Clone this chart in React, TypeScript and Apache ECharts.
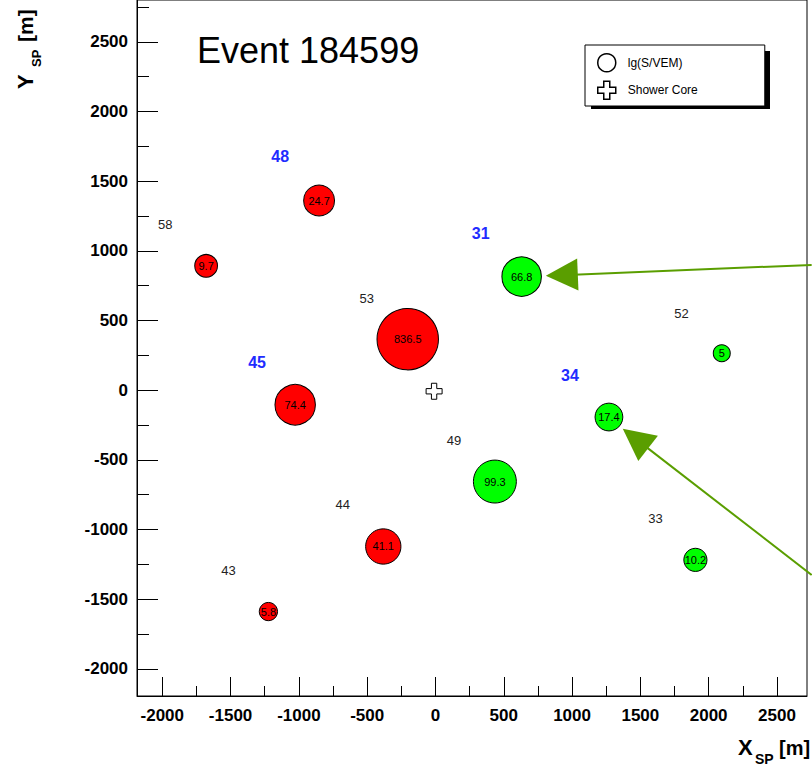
import React, { useEffect, useRef } from "react";
import * as echarts from "echarts";

// Detector stations with a signal: position [m], signal [VEM], group
const signalX = [-852, -1679, -203, -1027, -382, -1223, 631, 2096, 1270, 435, 1903];
const signalY = [1361, 892, 366, -105, -1122, -1589, 815, 265, -193, -656, -1218];
const signalVEM = [24.7, 9.7, 836.5, 74.4, 41.1, 5.8, 66.8, 5, 17.4, 99.3, 10.2];
const signalGroup = ["A", "A", "A", "A", "A", "A", "B", "B", "B", "B", "B"];

// Station ids without signal
const idX = [-1979, -503, 1801, 135, -679, -1516, 1611];
const idY = [1188, 660, 553, -362, -823, -1295, -919];
const idLabel = ["58", "53", "52", "49", "44", "43", "33"];

// Highlighted station ids
const hotX = [-1137, 331, -1306, 984];
const hotY = [1674, 1122, 196, 103];
const hotLabel = ["48", "31", "45", "34"];

// Reconstructed shower core
const coreX = [-10];
const coreY = [-8];

// Pointer arrows: tail and arrow-head centre in detector coordinates
const arrowFrom = [[2754, 899], [2754, -1326]];
const arrowTo = [[925, 825], [1464, -348]];

// Axis ticks
const majorTicks = [-2000, -1500, -1000, -500, 0, 500, 1000, 1500, 2000, 2500];
const minorTicksX = [-1750, -1250, -750, -250, 250, 750, 1250, 1750, 2250];
const minorTicksY = [-1750, -1250, -750, -250, 250, 750, 1250, 1750, 2250, 2750];

const FONT = "Liberation Sans";
const CROSS = "path://M1,0H2V1H3V2H2V3H1V2H0V1H1Z";

export default function App() {
  const ref = useRef<HTMLDivElement>(null);

  useEffect(() => {
    if (!ref.current) return;
    const chart = echarts.init(ref.current, null, { renderer: "svg" });

    const xRange = { min: -2185, max: 2720 };
    const yRange = { min: -2195, max: 2800 };

    const majorAxis = (len: number, margin: number) => ({
      type: "value" as const,
      axisLine: { show: true, onZero: false, lineStyle: { color: "#000", width: 1 } },
      axisTick: {
        show: true,
        inside: true,
        length: len,
        customValues: majorTicks,
        lineStyle: { color: "#000", width: 1 },
      },
      axisLabel: {
        show: true,
        customValues: majorTicks,
        margin,
        formatter: (v: number) => String(v),
        fontFamily: FONT,
        fontWeight: "bold" as const,
        fontSize: 17,
        color: "#000",
      },
      splitLine: { show: false },
    });

    const minorAxis = (len: number, vals: number[]) => ({
      type: "value" as const,
      axisLine: { show: false, onZero: false },
      axisTick: {
        show: true,
        inside: true,
        length: len,
        customValues: vals,
        lineStyle: { color: "#000", width: 1 },
      },
      axisLabel: { show: false },
      splitLine: { show: false },
    });

    const option: any = {
      animation: false,
      backgroundColor: "#fff",
      grid: {
        left: 137,
        right: 5,
        top: 0,
        bottom: 82,
        show: true,
        borderColor: "#000",
        borderWidth: 1,
        backgroundColor: "transparent",
      },
      xAxis: [
        { ...majorAxis(19, 11), ...xRange, position: "bottom" },
        { ...minorAxis(10, minorTicksX), ...xRange, position: "bottom" },
      ],
      yAxis: [
        { ...majorAxis(21, 9), ...yRange, position: "left" },
        { ...minorAxis(12, minorTicksY), ...yRange, position: "left" },
      ],
      legend: {
        orient: "vertical",
        left: 585,
        top: 45,
        z: 10,
        itemWidth: 18,
        itemHeight: 18,
        itemGap: 8,
        padding: [8, 67, 6, 12],
        backgroundColor: "#fff",
        borderColor: "#000",
        borderWidth: 1,
        borderRadius: 0,
        selectedMode: false,
        textStyle: { fontFamily: FONT, fontSize: 12, color: "#000", padding: [0, 0, 0, 7] },
        data: [
          {
            name: "lg(S/VEM)",
            icon: "circle",
            itemStyle: { color: "#fff", borderColor: "#000", borderWidth: 1.5 },
          },
          {
            name: "Shower Core",
            icon: CROSS,
            itemStyle: { color: "#fff", borderColor: "#000", borderWidth: 1.5 },
          },
        ],
      },
      graphic: [
        {
          type: "rect",
          z: 1,
          shape: { x: 591, y: 51, width: 179, height: 58 },
          style: { fill: "#000" },
          silent: true,
        },
        {
          type: "text",
          x: 197,
          y: 50,
          style: {
            text: "Event 184599",
            fontFamily: FONT,
            fontSize: 36,
            fill: "#000",
            verticalAlign: "middle",
          },
        },
        {
          type: "group",
          x: 25,
          y: 91,
          rotation: Math.PI / 2,
          children: [
            {
              type: "text",
              x: 2,
              y: 0,
              style: { text: "Y", fontFamily: FONT, fontWeight: "bold", fontSize: 22, fill: "#000", verticalAlign: "middle" },
            },
            {
              type: "text",
              x: 24,
              y: 11,
              style: { text: "SP", fontFamily: FONT, fontWeight: "bold", fontSize: 13, fill: "#000", verticalAlign: "middle" },
            },
            {
              type: "text",
              x: 49,
              y: 0,
              style: { text: "[m]", fontFamily: FONT, fontWeight: "bold", fontSize: 21, fill: "#000", verticalAlign: "middle" },
            },
          ],
        },
        {
          type: "text",
          x: 738,
          y: 747,
          style: { text: "X", fontFamily: FONT, fontWeight: "bold", fontSize: 22, fill: "#000", verticalAlign: "middle" },
        },
        {
          type: "text",
          x: 755,
          y: 759,
          style: { text: "SP", fontFamily: FONT, fontWeight: "bold", fontSize: 14, fill: "#000", verticalAlign: "middle" },
        },
        {
          type: "text",
          x: 779,
          y: 748,
          style: { text: "[m]", fontFamily: FONT, fontWeight: "bold", fontSize: 20, fill: "#000", verticalAlign: "middle" },
        },
      ],
      series: [
        {
          name: "lg(S/VEM)",
          type: "scatter",
          xAxisIndex: 0,
          yAxisIndex: 0,
          z: 3,
          data: signalX.map((x, i) => ({
            value: [x, signalY[i], signalVEM[i]],
            itemStyle: { color: signalGroup[i] === "A" ? "#ff0000" : "#00ff00" },
          })),
          symbol: "circle",
          symbolSize: (v: number[]) => 20 * Math.log10(v[2]) + 3,
          itemStyle: { borderColor: "#000", borderWidth: 1, opacity: 1 },
          label: {
            show: true,
            position: "inside",
            formatter: (p: any) => String(p.value[2]),
            fontFamily: FONT,
            fontSize: 11,
            color: "#000",
          },
          emphasis: { disabled: true },
        },
        {
          name: "Shower Core",
          type: "scatter",
          xAxisIndex: 0,
          yAxisIndex: 0,
          z: 3,
          data: coreX.map((x, i) => [x, coreY[i]]),
          symbol: CROSS,
          symbolSize: 16,
          itemStyle: { color: "#fff", borderColor: "#000", borderWidth: 1, opacity: 1 },
          emphasis: { disabled: true },
        },
        {
          name: "ids",
          type: "scatter",
          xAxisIndex: 0,
          yAxisIndex: 0,
          data: idX.map((x, i) => [x, idY[i], idLabel[i]]),
          symbolSize: 0,
          silent: true,
          itemStyle: { opacity: 1 },
          label: {
            show: true,
            position: "inside",
            formatter: (p: any) => p.value[2],
            fontFamily: FONT,
            fontSize: 13,
            color: "#222",
          },
        },
        {
          name: "hot",
          type: "scatter",
          xAxisIndex: 0,
          yAxisIndex: 0,
          data: hotX.map((x, i) => [x, hotY[i], hotLabel[i]]),
          symbolSize: 0,
          silent: true,
          itemStyle: { opacity: 1 },
          label: {
            show: true,
            position: "inside",
            formatter: (p: any) => p.value[2],
            fontFamily: FONT,
            fontWeight: "bold",
            fontSize: 16,
            color: "#1f2cff",
          },
        },
        {
          name: "arrows",
          type: "lines",
          coordinateSystem: "cartesian2d",
          xAxisIndex: 0,
          yAxisIndex: 0,
          clip: false,
          z: 5,
          silent: true,
          symbol: ["none", "triangle"],
          symbolSize: [22, 32],
          lineStyle: { color: "#5a9e00", width: 2, opacity: 1, curveness: 0 },
          data: arrowFrom.map((f, i) => ({ coords: [f, arrowTo[i]] })),
        },
      ],
    };

    chart.setOption(option);
    return () => chart.dispose();
  }, []);

  return (
    <div
      ref={ref}
      style={{ position: "absolute", left: 0, top: 0, width: 812, height: 778, background: "#fff" }}
    />
  );
}
